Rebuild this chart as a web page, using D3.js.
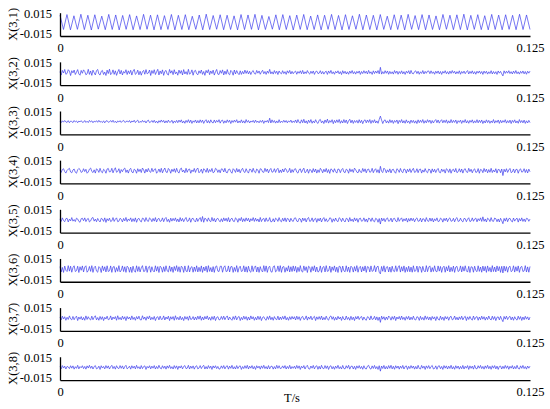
<!DOCTYPE html>
<html>
<head>
<meta charset="utf-8">
<script src="https://cdn.jsdelivr.net/npm/d3@7"></script>
<style>
  html, body { margin: 0; padding: 0; background: #ffffff; }
  svg { display: block; }
  text { font-family: 'Liberation Serif', 'Times New Roman', serif; }
</style>
</head>
<body>
<div id="chart"></div>
<script>
// ---------- DATA (values in units of 1e-4) ----------
const UNIT = 1e-4;
const T_END = 0.125;
const seriesNames = ["X(3,1)", "X(3,2)", "X(3,3)", "X(3,4)", "X(3,5)", "X(3,6)", "X(3,7)", "X(3,8)"];
const yTickValues = [0.015, -0.015];
const yTickLabels = ["0.015", "-0.015"];
const xTickValues = [0, 0.125];
const xTickLabels = ["0", "0.125"];
const xTitle = "T/s";

const s1 = [
120,-90,128,-95,110,-88,132,-92,118,-97,125,-85,105,-93,130,-90,122,-96,115,-88,
127,-94,108,-91,131,-87,119,-95,124,-92,112,-89,129,-96,117,-90,126,-93,103,-88,
121,-95,133,-91,114,-87,125,-94,118,-90,109,-96,128,-92,122,-88,131,-95,116,-91,
100,-86,124,-94,127,-90,112,-97,120,-89,129,-93,106,-91,123,-95,118,-88,130,-92,
115,-96,126,-90,110,-87,132,-94,121,-91,117,-95,128,-89,104,-93,125,-90,119,-96,
131,-88,113,-92,127,-95,122,-90,108,-94,129,-87,118,-93,124,-91,133,-96,116,-89,
126,-92,111,-95,130,-90,120,-94,125,-88,117,-93,132,-91,122,-90
];
const s2 = [
12,-38,30,-8,44,-26,-14,40,20,-45,26,-6,35,-30,4,42,-22,-40,30,-12,
38,14,-34,-20,46,-28,22,-42,34,-4,-36,28,44,-22,-38,16,30,-30,6,-44,
34,-16,48,-32,-12,38,-28,24,-42,8,44,-22,30,-36,14,-10,40,-30,24,-18,
32,-38,20,45,-28,-12,34,-34,18,-40,12,30,-26,42,-20,-8,36,-44,28,-14,
40,-30,10,46,-36,22,-18,38,-42,16,30,-24,-38,44,-10,26,-32,40,-20,8,
-40,34,-14,28,-36,42,-22,12,-30,46,-26,-8,38,-40,20,32,-18,-34,24,-12,
36,-28,14,-42,30,-6,40,-32,22,-16,34,-38,10,44,-24,-30,28,-12,38,-36,
20,-26,42,-18,-34,30,12,-40,36,-22,28,-10,-32,24,-28,16,-20,34,-14,26,
-22,18,-30,12,28,-16,-24,30,-10,22,-26,8,32,-18,14,-28,20,-12,45,-20,
10,-24,28,-14,18,-30,22,-8,-20,26,-16,12,-28,24,-10,30,-22,16,-18,8,
20,-26,14,-12,24,-18,30,-22,10,-16,28,-8,-24,18,-14,22,-28,12,20,-16,
-10,26,-20,14,-24,8,18,-28,22,-12,30,-18,10,-26,16,-8,24,-20,12,-30,
26,-14,18,-22,10,-26,20,-12,28,-18,12,-24,16,-10,22,-28,14,-16,26,-12,
18,-22,30,-14,10,-28,24,-16,20,-10,28,-20,75,-24,12,-18,26,-12,22,-26,
16,-18,10,-24,28,-12,20,-26,14,-16,24,-20,12,-28,18,-10,26,-22,30,-14,
-20,12,24,-16,18,-26,10,-14,28,-22,16,-12,20,22,-18,24,-14,10,-26,18,
-12,22,-20,14,-28,16,-10,26,-18,12,-24,20,-14,28,-10,18,-22,12,-16,24,
-26,14,-12,20,-18,10,28,-22,16,-14,24,-20,12,-26,18,-10,22,-16,14,-28,
20,-12,18,-24,10,-16,26,-22,14,-18,12,-28,22,-10,16,-20,-50,24,-14,18,
-10,26,-16,12,-22,20,-14,28,-18,10,-24,16,-12,22,-20,14,-26,18,-10,20
];
const s3 = [
6,-14,12,-8,16,-4,-12,14,-16,8,2,-14,16,-6,10,-16,8,-4,14,-10,
-8,16,-12,6,-14,18,-4,12,-16,8,-6,14,-10,18,-8,4,-14,12,-18,8,
14,-10,-4,16,-8,20,-12,6,-18,10,-6,14,-12,8,18,-10,-4,12,-8,16,
-16,10,-6,20,-14,8,22,-16,4,-10,18,-8,12,-20,10,22,-14,-6,16,-12,
20,-16,8,-22,14,-10,24,-8,18,-20,12,-16,22,-10,-6,20,-24,10,-14,18,
-16,22,-8,26,-20,10,-24,18,-12,28,-16,22,-26,12,-10,24,-20,16,-18,26,
-12,22,-26,10,28,-18,16,-22,26,-10,-20,24,-16,18,-8,28,-22,14,22,-24,
12,-18,26,-10,20,-28,16,-12,22,-8,28,-20,10,-16,26,-18,12,-22,30,-10,
16,-20,10,-8,18,-16,22,-12,8,-18,16,-10,20,-26,12,-8,18,-15,50,-20,
26,-12,16,-22,10,-18,28,-16,8,-12,20,-10,16,-18,12,-8,22,-16,10,-12,
24,-18,30,-12,-22,26,-16,34,-20,12,-28,22,-14,30,-24,10,-18,28,-12,-26,
20,32,-18,10,-28,24,-14,36,-22,16,-10,28,-30,18,-16,26,-12,32,-24,14,
-20,30,-16,24,-28,12,34,-18,22,-26,16,-12,18,-22,28,-16,20,-30,14,26,
-18,24,-12,30,-26,18,-14,28,-20,10,-24,32,80,22,-28,14,26,-18,12,-22,
28,-14,20,-26,16,-10,24,-30,18,-12,30,-20,14,-24,26,-16,10,-28,22,-14,
18,-22,12,-28,26,-16,20,-12,30,-24,14,-18,28,-10,22,-26,16,-20,12,30,
-16,24,-22,10,28,-18,20,-14,26,-24,12,-20,30,-16,18,-12,24,-28,14,-10,
22,-26,16,-12,30,-20,14,-24,18,-10,26,-22,12,-16,28,-18,20,-14,24,-28,
12,-20,26,-14,18,-24,10,-16,30,-22,14,-12,24,-26,20,-18,16,-10,28,-22,
14,-16,22,-28,18,-12,26,-20,10,-24,30,-14,16,-18,22,-26,12,-20,18,-14
];
const s4 = [
10,-24,18,30,-12,-34,6,24,36,-18,-30,12,26,-22,-36,14,34,18,-24,-14,
30,-12,22,-36,-18,24,40,-10,-26,14,-34,30,12,-24,36,-14,-30,22,6,-36,
26,34,-18,-12,36,-30,14,44,-22,-10,30,-36,18,-14,24,40,-24,12,-34,18,
36,-18,-30,24,10,-36,30,-12,22,-26,40,14,-34,24,-18,34,-10,-24,36,-14,
18,30,-36,-12,26,-22,36,-30,12,40,-18,-26,34,14,-36,22,-12,30,-24,36,
-14,-34,24,40,-18,10,-30,36,-22,18,26,-36,12,-14,34,-24,22,40,-30,-10,
24,-36,30,14,-22,36,-26,18,-12,34,-30,-18,36,22,-24,14,-30,28,24,-18,
36,-22,-30,18,26,-14,-36,30,12,-24,34,-18,22,-30,14,36,-12,-26,30,-10,
-34,24,18,-22,36,-14,-30,26,10,-36,30,22,-18,-24,36,-12,26,-30,14,34,
-22,-14,30,-24,18,36,-30,12,-26,26,-18,34,22,-24,-12,36,-30,18,-22,24,
30,-20,-34,16,28,-26,12,38,-30,-14,24,-36,20,10,-28,32,-18,26,-34,14,
-24,36,12,-30,22,-16,34,-26,18,-38,28,14,-22,30,-12,-34,26,20,-28,16,
34,-18,-28,24,12,-36,30,-14,20,-24,38,16,-20,-30,22,-18,-26,34,-12,28,
-30,18,26,-22,-14,36,-28,12,30,-24,16,-34,65,-10,-26,38,18,-30,14,-20,
28,-32,16,22,-18,-36,30,14,-24,34,-12,-28,26,18,-34,22,-14,30,-26,12,
36,-24,-16,30,-28,18,26,-34,12,-20,32,-14,-30,24,16,-36,28,-18,22,-26,
14,34,-22,-30,26,-12,18,-34,30,16,-24,28,-36,12,22,-18,34,-28,-14,30,
-20,26,-34,18,30,-16,-26,36,-12,22,-30,14,28,-24,-18,32,-36,20,12,-28,
34,-14,24,-30,18,-22,36,-26,12,-18,30,-34,20,16,-28,26,-70,22,-16,30,
-24,12,34,-28,-16,26,-30,18,22,-36,14,28,-20,-12,30,-26,18,-32,24,-14
];
const s5 = [
14,-22,30,-10,-26,18,24,-30,12,-14,34,-18,6,-24,26,14,-22,-34,18,24,
-12,30,-24,10,22,-30,-14,26,36,-18,12,-26,22,-10,-30,24,14,-22,30,-36,
18,-12,26,-24,-14,34,-22,12,30,-26,-18,24,10,-30,22,-14,36,-24,14,-10,
30,-26,18,-22,30,-34,12,24,-14,-30,26,18,-24,34,-12,-22,30,14,-26,22,
-18,34,-30,12,24,-22,-14,30,-26,18,36,-24,10,-34,26,-18,22,-12,30,-24,
14,-30,34,-18,22,-26,12,36,-22,-14,30,-34,18,24,-12,-30,26,-22,14,34,
-24,50,-34,26,12,-22,30,-14,-26,36,-18,22,-30,14,24,-12,-28,18,-26,30,
-14,24,-22,34,-30,12,26,-18,-24,30,14,-34,22,-12,36,-26,18,-22,30,-14,
24,-30,18,-12,34,-22,26,-18,14,-30,36,-24,12,22,-26,30,-18,-14,34,-28,
-24,18,-30,26,12,-22,34,-14,-28,24,-18,30,-26,22,14,-30,24,-12,-22,26,
30,-18,-26,22,14,-34,28,-12,24,-30,18,36,-22,-14,30,-26,12,24,-34,20,
-16,28,-30,12,34,-22,18,-26,-12,30,24,-34,16,-20,28,-14,-26,32,18,-24,
26,-12,-30,24,16,-28,34,-18,12,-26,30,-14,22,-34,18,26,-20,-12,30,-24,
14,-32,26,18,-22,30,-16,-28,24,12,-34,20,-60,28,-14,22,-26,16,30,-20,
-12,26,-30,18,24,-16,-28,34,-20,12,30,-24,16,-14,26,-32,20,-18,28,-12,
22,-28,14,30,-20,-16,26,-30,18,12,-26,34,-14,-22,28,-18,24,-30,16,-12,
30,-24,-18,26,14,-32,22,-12,28,-26,16,30,-20,-14,24,-28,18,34,-22,-16,
26,-14,-30,22,18,-26,12,32,-24,-16,30,-20,14,26,-28,18,-12,30,-22,45,
-20,14,-30,26,12,-24,34,-16,-22,28,18,-26,14,-30,24,-12,-55,22,-18,30,
-26,18,24,-14,-30,28,-18,12,26,-32,20,-16,30,-22,14,-26,24,18,-20,12
];
const s6 = [
36,-42,24,-48,44,-18,-36,50,-30,42,-46,22,48,-36,-24,42,-50,34,-18,46,
-42,30,48,-46,-22,38,-34,50,-48,24,42,-30,-46,36,18,-50,46,-24,34,-42,
48,-36,-26,46,-48,30,38,-46,22,-34,50,-42,-18,46,-36,34,-48,42,24,-46,
30,-50,42,-24,-46,48,-34,36,-42,18,50,-36,-30,46,-48,26,42,-46,34,-24,
-42,48,-30,36,-50,42,22,-46,34,-36,48,-26,-42,46,-34,30,-48,38,-22,50,
-36,34,-46,42,24,-48,46,-30,-38,50,-42,22,36,-46,30,-34,48,-42,26,-36,
46,-48,30,-26,42,-46,50,-34,22,-42,36,-48,34,46,-30,-36,40,42,-46,26,
48,-36,-30,46,-42,34,38,-48,24,-34,50,-46,18,42,-36,-26,48,-42,34,-46,
42,-30,-46,48,-36,26,46,-42,30,-48,36,-22,-42,50,-34,46,-48,24,42,-36,
-46,34,48,-42,-26,46,-36,50,-48,30,38,-46,22,-30,48,-42,34,-36,46,-30,
40,-48,26,-36,50,-30,-44,46,-22,34,-50,42,28,-46,36,-24,48,-40,30,-44,
-30,46,-48,24,38,-42,50,-34,-26,44,-48,32,-20,46,-38,28,-50,42,34,-46,
44,-26,-40,48,-36,30,-48,42,24,-44,36,-30,50,-46,22,40,-42,34,-28,46,
-48,36,28,-42,46,-34,-24,50,-40,30,44,-46,-70,38,-32,48,-44,26,36,-42,
30,-46,42,-28,-38,48,-36,22,50,-44,34,-30,46,-48,26,-36,42,-40,28,-46,
48,-34,-26,44,-46,36,30,-48,40,-24,-42,50,-38,28,46,-44,22,-36,48,-30,
-40,46,-30,38,-48,24,42,-46,34,-28,50,-42,26,-34,44,-48,30,40,-36,-24,
46,-42,36,-30,48,-26,-44,40,-50,34,28,-46,42,-22,-38,48,-34,30,-46,44,
-28,38,-48,46,-32,24,-44,50,-36,30,-42,46,-26,36,-48,40,-56,44,-30,36,
-46,28,42,-38,-24,48,-44,34,-30,46,-48,26,40,-36,-28,50,-42,32,-46,38
];
const s7 = [
18,-24,30,-12,22,-30,14,-18,34,-10,-24,26,-22,12,30,-34,18,-14,24,-26,
12,-30,34,-18,22,-12,-26,30,-22,14,36,-24,10,-30,26,-18,22,-34,14,-12,
30,-22,-14,34,-26,18,-10,24,-30,36,-18,12,-24,30,-14,22,-34,26,-12,18,
-24,34,-18,14,-30,24,-12,30,-22,-26,36,-14,18,-30,24,-10,34,-24,14,-18,
26,-34,12,22,-24,30,-18,-14,34,-26,18,-12,30,-34,22,-14,24,-30,36,-18,
14,-24,30,-22,12,-34,26,-14,22,-30,34,-18,-12,24,-26,18,-22,30,-14,34,
-30,18,-24,26,-12,34,-22,14,-30,24,-18,30,-34,12,22,-24,-20,26,-18,30,
-22,14,34,-26,18,-12,-30,24,-18,34,-24,14,26,-34,12,-22,30,-14,24,-30,
18,-26,34,-12,22,-30,14,-24,30,-18,26,-34,12,22,-14,-30,24,-18,34,-22,
14,-30,24,-12,-22,30,-26,18,-20,26,-14,34,-24,12,-30,22,-18,26,-12,22,
-26,30,-16,22,-32,14,26,-20,-12,34,-28,18,-14,30,-24,12,28,-34,20,-16,
24,-18,32,-26,12,-22,30,-14,-28,20,34,-16,22,-30,14,-24,28,-12,18,-32,
26,-14,-24,32,-18,12,-30,28,-22,16,-34,24,-12,30,-20,14,26,-28,18,-16,
-30,22,14,-26,34,-18,-12,28,-24,20,-32,16,-60,30,-14,22,-28,18,-20,32,
14,-28,24,-16,30,-34,18,-12,26,-22,32,-18,14,-30,24,-14,28,-26,16,-20,
30,-18,-26,22,14,-32,28,-20,12,-28,34,-16,22,-24,18,-30,26,-12,20,-34,
24,-14,-28,30,-20,16,-32,26,-12,22,-30,18,28,-24,-14,32,-22,14,-26,20,
-16,30,-24,12,28,-34,20,-18,26,-12,-28,32,-20,14,24,-30,18,-22,30,-14,
22,-28,16,-20,32,-12,-26,30,-18,24,-34,14,20,-24,28,-16,-50,26,-14,30,
-20,14,28,-24,18,-30,22,-12,-28,30,-16,24,-32,18,-22,28,-14,20,-26,16
];
const s8 = [
12,-22,26,-10,18,-24,14,6,-18,24,-12,22,-26,10,-14,30,-22,12,-6,24,
-18,14,-26,22,-10,30,-14,18,-24,12,26,-22,-12,18,-30,24,-10,14,-22,26,
-12,22,-24,10,30,-18,14,-26,24,-10,-18,26,-14,22,-24,12,30,-22,-6,18,
-26,24,-12,18,-22,30,-14,10,-24,26,-18,12,22,-30,14,-10,24,-22,18,-12,
26,-24,14,-18,30,-10,-22,24,-14,18,-26,22,-12,30,-18,10,-24,26,-14,22,
-30,18,-10,24,-22,14,26,-18,-12,30,-24,18,-14,22,-26,12,24,-22,-10,26,
-18,14,30,-24,12,-22,26,-14,18,-30,22,-10,24,-18,14,-26,-20,22,-14,26,
-22,12,24,-26,18,-14,30,-22,10,-24,26,-18,14,22,-30,12,-18,24,-14,30,
-24,18,-12,26,-22,14,-30,24,-10,18,-26,22,-14,30,-18,12,-24,26,-22,14,
18,-26,12,-22,30,-14,24,-18,-12,22,-12,26,-24,14,-18,30,-22,12,-14,18,
-20,28,-14,22,-30,16,-10,26,-24,12,30,-18,-26,20,-12,28,-22,14,24,-28,
16,-24,30,-12,-20,26,-16,22,-30,14,24,-22,12,-28,18,-14,30,-20,10,-24,
28,-16,-22,24,-12,30,-26,14,20,-24,16,-30,22,-12,26,-18,14,-28,24,-16,
-24,18,30,-14,-26,22,-16,28,-20,12,-30,24,-55,20,-16,28,-24,14,-22,26,
-14,30,-22,16,-28,24,-12,20,-26,18,-14,28,-24,12,22,-30,16,-18,26,-12,
20,-26,14,-22,30,-16,-24,28,-12,18,-30,22,-14,26,-20,12,28,-24,-16,22,
-28,16,24,-20,14,-30,26,-12,22,-24,18,-16,30,-22,12,-28,24,-14,20,-26,
14,-20,28,-24,16,-12,26,-30,22,-14,18,-26,30,-16,-22,24,-12,28,-18,14,
-26,22,-14,30,-20,16,-28,24,-12,26,-22,18,-30,14,20,-24,16,-18,28,-14,
22,-28,16,-12,26,-24,14,-20,30,-16,-24,22,-14,28,-18,12,-26,20,-12,18
];
const seriesValues = [s1, s2, s3, s4, s5, s6, s7, s8];

// ---------- LAYOUT ----------
const W = 550, H = 409;
const X0 = 60, X1 = 530;
const FIRST_BASE = 36, STEP = 49.15, PANEL_H = 23.3;
const FONT = "'Liberation Serif', 'Times New Roman', serif";
const LINE_COLOR = "#3c3cec";

const svg = d3.select("#chart").append("svg")
  .attr("width", W).attr("height", H)
  .attr("viewBox", `0 0 ${W} ${H}`);
svg.append("rect").attr("width", W).attr("height", H).attr("fill", "#fff");

const x = d3.scaleLinear().domain([0, T_END]).range([X0, X1]);

seriesValues.forEach((vals, k) => {
  const yb = FIRST_BASE + STEP * k;
  const y = d3.scaleLinear().domain([-0.0185, 0.0155]).range([yb, yb - PANEL_H]);
  const n = vals.length;
  const line = d3.line()
    .x((d, i) => x(i * T_END / (n - 1)))
    .y(d => y(d * UNIT));

  const g = svg.append("g");

  g.append("path")
    .datum(vals)
    .attr("d", line)
    .attr("fill", "none")
    .attr("stroke", LINE_COLOR)
    .attr("stroke-width", 0.7)
    .attr("stroke-linejoin", "round");

  const yAxis = g.append("g")
    .attr("transform", `translate(${X0},0)`)
    .call(d3.axisLeft(y).tickValues(yTickValues).tickSize(0).tickSizeOuter(0).tickPadding(8)
      .tickFormat((d, i) => yTickLabels[i]));
  yAxis.attr("font-family", FONT).attr("font-size", 12.5);
  yAxis.select(".domain").attr("stroke", "#000").attr("stroke-width", 1.3);
  yAxis.selectAll("text").attr("fill", "#000").style("font-family", FONT);

  const xAxis = g.append("g")
    .attr("transform", `translate(0,${yb})`)
    .call(d3.axisBottom(x).tickValues(xTickValues).tickSize(0).tickSizeOuter(0).tickPadding(7.5)
      .tickFormat((d, i) => xTickLabels[i]));
  xAxis.attr("font-family", FONT).attr("font-size", 12.5);
  xAxis.select(".domain").attr("stroke", "#000").attr("stroke-width", 1.3);
  xAxis.selectAll("text").attr("fill", "#000").style("font-family", FONT);

  g.append("text")
    .attr("transform", `translate(16.5,${yb - PANEL_H / 2}) rotate(-90)`)
    .attr("text-anchor", "middle")
    .style("font-family", FONT)
    .attr("font-size", 12.5)
    .attr("fill", "#000")
    .text(seriesNames[k]);
});

svg.append("text")
  .attr("x", 292)
  .attr("y", 402)
  .attr("text-anchor", "middle")
  .style("font-family", FONT)
  .attr("font-size", 12.5)
  .attr("fill", "#000")
  .text(xTitle);
</script>
</body>
</html>
